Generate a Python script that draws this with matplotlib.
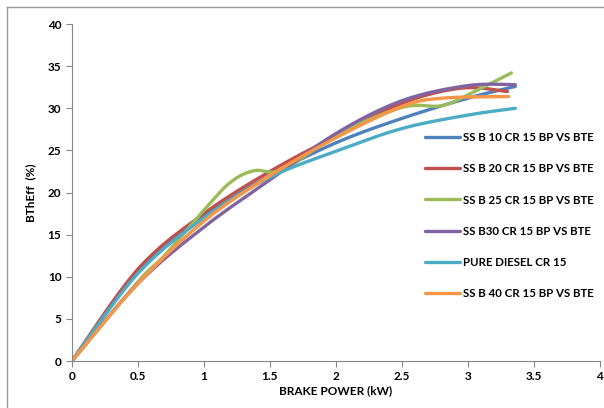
import numpy as np
import matplotlib
matplotlib.use("Agg")
import matplotlib.pyplot as plt
from matplotlib.lines import Line2D

plt.rcParams['font.family'] = ['Lato', 'DejaVu Sans']

labels = ["SS B 10 CR 15 BP VS BTE", "SS B 20 CR 15 BP VS BTE",
          "SS B 25 CR 15 BP VS BTE", "SS B30 CR 15 BP VS BTE",
          "PURE DIESEL CR 15", "SS B 40 CR 15 BP VS BTE"]
colors = ["#4F81BD", "#C0504D", "#9BBB59", "#8064A2", "#4BACC6", "#F79646"]

bp_b10 = [0, 0.5, 1.0, 1.5, 2.0, 2.5, 3.0, 3.36]
bte_b10 = [0, 10.5, 17.1, 22.0, 25.9, 28.8, 31.2, 32.6]

bp_b20 = [0, 0.5, 1.0, 1.5, 2.0, 2.5, 2.95, 3.3]
bte_b20 = [0, 10.9, 17.5, 22.5, 26.7, 30.6, 32.4, 32.0]

bp_b25 = [0, 0.5, 0.7, 1.0, 1.2, 1.38, 1.6, 2.0, 2.5, 2.8, 3.0, 3.33]
bte_b25 = [0, 9.4, 12.5, 17.9, 21.2, 22.6, 22.7, 26.8, 30.1, 30.3, 31.6, 34.2]

bp_b30 = [0, 0.5, 1.0, 1.5, 2.0, 2.5, 3.0, 3.36]
bte_b30 = [0, 9.2, 15.9, 21.5, 27.0, 30.9, 32.7, 32.8]

bp_diesel = [0, 0.5, 1.0, 1.5, 2.0, 2.5, 3.0, 3.36]
bte_diesel = [0, 10.4, 17.0, 21.8, 24.9, 27.6, 29.2, 30.0]

bp_b40 = [0, 0.5, 1.0, 1.5, 2.0, 2.5, 2.8, 3.31]
bte_b40 = [0, 9.2, 16.6, 22.0, 26.5, 30.2, 31.2, 31.4]

series = [(bp_b10, bte_b10), (bp_b20, bte_b20), (bp_b25, bte_b25),
          (bp_b30, bte_b30), (bp_diesel, bte_diesel), (bp_b40, bte_b40)]


def smooth(x, y, n=30):
    # excel-like smoothed line (bezier through the points)
    p = np.column_stack([x, y]).astype(float)
    p = np.vstack([p[0], p, p[-1]])
    out = []
    for i in range(1, len(p) - 2):
        p0, p1, p2, p3 = p[i - 1], p[i], p[i + 1], p[i + 2]
        c1 = p1 + (p2 - p0) / 6
        c2 = p2 - (p3 - p1) / 6
        t = np.linspace(0, 1, n)[:, None]
        seg = ((1 - t) ** 3 * p1 + 3 * (1 - t) ** 2 * t * c1
               + 3 * (1 - t) * t ** 2 * c2 + t ** 3 * p2)
        out.append(seg)
    s = np.vstack(out)
    return s[:, 0], s[:, 1]


fig = plt.figure(figsize=(6.04, 4.08), dpi=100)
ax = fig.add_axes([0.119, 0.115, 0.874, 0.826])

for (x, y), c, lab in zip(series, colors, labels):
    sx, sy = smooth(x, y)
    ax.plot(sx, sy, color=c, lw=2.4, label=lab, solid_capstyle='round')

ax.set_xlim(0, 4)
ax.set_ylim(0, 40)
ax.set_xticks(np.arange(0, 4.01, 0.5))
ax.set_xticklabels(["0", "0.5", "1", "1.5", "2", "2.5", "3", "3.5", "4"])
ax.set_yticks(range(0, 41, 5))
for s in ["top", "right"]:
    ax.spines[s].set_visible(False)
for s in ["left", "bottom"]:
    ax.spines[s].set_color("#868686")
ax.tick_params(direction='out', length=4, color="#868686", labelsize=8.5)
for t in ax.get_xticklabels() + ax.get_yticklabels():
    t.set_fontweight('bold')

ax.set_xlabel("BRAKE POWER (kW)", fontsize=8.5, fontweight='bold', labelpad=2)
ax.set_ylabel("BThEff  (%)", fontsize=8.5, fontweight='bold', labelpad=8)

ax.legend(loc='upper left', bbox_to_anchor=(0.65, 0.71), frameon=False,
          prop={'weight': 'bold', 'size': 8.3},
          handlelength=3.0, labelspacing=1.75, handletextpad=0.3)

fig.add_artist(Line2D([0.012, 0.012], [0.0, 0.983], color="#9a9a9a", lw=1,
                      transform=fig.transFigure))
fig.add_artist(Line2D([0.012, 1.0], [0.983, 0.983], color="#9a9a9a", lw=1,
                      transform=fig.transFigure))

fig.savefig("out.png", dpi=100)
